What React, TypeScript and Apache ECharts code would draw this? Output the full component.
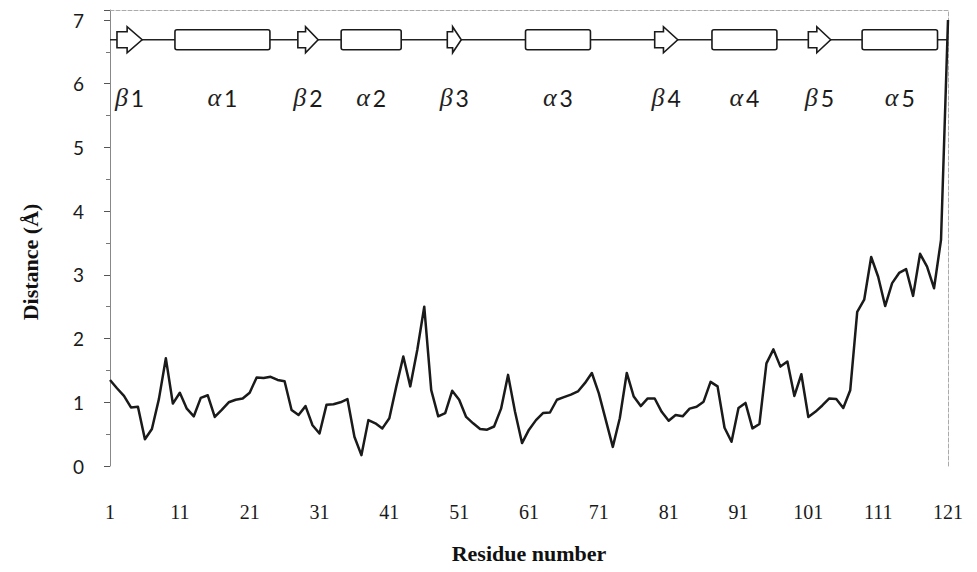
import React, { useEffect, useRef } from "react";
import * as echarts from "echarts";

// Per-residue distance values (Å), residues 1..121
const distance = [
  1.35, 1.22, 1.10, 0.92, 0.93, 0.42, 0.58, 1.05, 1.69, 0.98,
  1.15, 0.90, 0.78, 1.07, 1.11, 0.77, 0.88, 1.00, 1.04, 1.06,
  1.15, 1.39, 1.38, 1.40, 1.35, 1.33, 0.88, 0.80, 0.94, 0.64,
  0.51, 0.96, 0.97, 1.00, 1.05, 0.46, 0.17, 0.72, 0.67, 0.59,
  0.75, 1.25, 1.72, 1.25, 1.82, 2.50, 1.19, 0.78, 0.83, 1.18,
  1.04, 0.77, 0.67, 0.58, 0.57, 0.62, 0.90, 1.43, 0.85, 0.36,
  0.57, 0.72, 0.83, 0.84, 1.04, 1.08, 1.12, 1.17, 1.30, 1.46,
  1.14, 0.72, 0.30, 0.75, 1.46, 1.09, 0.94, 1.06, 1.06, 0.85,
  0.71, 0.80, 0.78, 0.90, 0.93, 1.01, 1.32, 1.25, 0.60, 0.38,
  0.91, 0.99, 0.59, 0.66, 1.61, 1.83, 1.56, 1.64, 1.10, 1.44,
  0.77, 0.85, 0.95, 1.06, 1.05, 0.91, 1.19, 2.42, 2.61, 3.28,
  2.97, 2.51, 2.87, 3.03, 3.09, 2.67, 3.33, 3.13, 2.79, 3.55,
  7.00,
];

const xTickLabels = [1, 11, 21, 31, 41, 51, 61, 71, 81, 91, 101, 111, 121];
const yTickLabels = [0, 1, 2, 3, 4, 5, 6, 7];

// Secondary structure elements (residue ranges)
const ssNames = ["β1", "α1", "β2", "α2", "β3", "α3", "β4", "α4", "β5", "α5"];
const ssKinds = ["strand", "helix", "strand", "helix", "strand", "helix", "strand", "helix", "strand", "helix"];
const ssStart = [2.0, 10.3, 27.9, 34.1, 49.3, 60.5, 79.0, 87.2, 101.0, 108.7];
const ssEnd = [5.6, 23.9, 30.8, 42.7, 51.3, 69.8, 82.3, 96.5, 104.2, 119.5];
const backboneY = 6.69;
const ssLabelY = 5.78;

const xMin = 1;
const xMax = 121;
const yMax = 7.157;

export default function App() {
  const ref = useRef<HTMLDivElement>(null);

  useEffect(() => {
    if (!ref.current) return;
    const chart = echarts.init(ref.current, undefined, { renderer: "svg" });

    const lineData = distance.map((v, i) => [i + 1, v]);
    const ssData = ssNames.map((_, i) => [ssStart[i], ssEnd[i], backboneY, i]);

    const option: any = {
      animation: false,
      backgroundColor: "#ffffff",
      grid: { left: 110, right: 29, top: 10, bottom: 106, containLabel: false },
      xAxis: [
        {
          type: "value",
          min: xMin,
          max: xMax,
          interval: 10,
          position: "bottom",
          axisLine: { show: false, onZero: false },
          axisTick: { show: false },
          splitLine: { show: false },
          axisLabel: {
            margin: 36,
            fontFamily: "Liberation Serif",
            fontSize: 20,
            color: "#1a1a1a",
            formatter: (v: number) => (xTickLabels.includes(v) ? String(v) : ""),
          },
          name: "Residue number",
          nameLocation: "middle",
          nameGap: 76,
          nameTextStyle: {
            fontFamily: "Liberation Serif",
            fontWeight: "bold",
            fontSize: 22,
            color: "#111",
          },
        },
        {
          type: "value",
          min: xMin,
          max: xMax,
          position: "top",
          axisLine: { show: true, onZero: false, lineStyle: { color: "#aaa", type: "dashed", width: 1 } },
          axisTick: { show: false },
          axisLabel: { show: false },
          splitLine: { show: false },
        },
      ],
      yAxis: [
        {
          type: "value",
          min: 0,
          max: yMax,
          interval: 1,
          position: "left",
          axisLine: { show: true, onZero: false, lineStyle: { color: "#888", width: 1 } },
          axisTick: { show: true, length: 6, lineStyle: { color: "#555" } },
          minorTick: { show: true, splitNumber: 2, length: 4, lineStyle: { color: "#777" } },
          splitLine: { show: false },
          axisLabel: {
            margin: 26,
            fontFamily: "Lato",
            fontSize: 19,
            color: "#1a1a1a",
            formatter: (v: number) => (yTickLabels.includes(v) ? String(v) : ""),
          },
        },
        {
          type: "value",
          min: 0,
          max: yMax,
          position: "right",
          axisLine: { show: true, onZero: false, lineStyle: { color: "#aaa", type: "dashed", width: 1 } },
          axisTick: { show: false },
          axisLabel: { show: false },
          splitLine: { show: false },
        },
      ],
      graphic: [
        {
          type: "text",
          x: 30,
          y: 262,
          rotation: Math.PI / 2,
          style: {
            text: "Distance (Å)",
            font: 'bold 22px "Liberation Serif"',
            fill: "#111",
            textAlign: "center",
            textVerticalAlign: "middle",
          },
        },
      ],
      series: [
        {
          name: "backbone",
          type: "line",
          data: [
            [xMin, backboneY],
            [xMax, backboneY],
          ],
          symbol: "none",
          lineStyle: { color: "#222", width: 1.5 },
          z: 1,
          silent: true,
        },
        {
          name: "distance",
          type: "line",
          data: lineData,
          symbol: "none",
          lineStyle: { color: "#1a1a1a", width: 2.5, join: "round" },
          z: 2,
        },
        {
          name: "ss",
          type: "custom",
          data: ssData,
          encode: { x: [0, 1], y: 2 },
          z: 3,
          renderItem: (params: any, api: any) => {
            const i = api.value(3);
            const s = api.coord([api.value(0), api.value(2)]);
            const e = api.coord([api.value(1), api.value(2)]);
            const cy = s[1];
            const x0 = s[0];
            const x1 = e[0];
            const lab = api.coord([(api.value(0) + api.value(1)) / 2, ssLabelY]);
            const name = ssNames[i];
            const stroke = { fill: "#fff", stroke: "#1a1a1a", lineWidth: 1.6 };
            let shapeEl: any;
            if (ssKinds[i] === "helix") {
              shapeEl = {
                type: "rect",
                shape: { x: x0, y: cy - 10, width: x1 - x0, height: 20, r: 2 },
                style: stroke,
              };
            } else {
              const len = x1 - x0;
              const hl = Math.min(15, len * 0.62);
              const xh = x1 - hl;
              const bh = 8;
              const hh = 13;
              shapeEl = {
                type: "polygon",
                shape: {
                  points: [
                    [x0, cy - bh],
                    [xh, cy - bh],
                    [xh, cy - hh],
                    [x1, cy],
                    [xh, cy + hh],
                    [xh, cy + bh],
                    [x0, cy + bh],
                  ],
                },
                style: stroke,
              };
            }
            const text = {
              type: "text",
              x: lab[0],
              y: lab[1],
              style: {
                text: `{g|${name[0]}}{d|${name.slice(1)}}`,
                rich: {
                  g: {
                    fontFamily: "Liberation Serif",
                    fontStyle: "italic",
                    fontSize: 26,
                    fill: "#222",
                    color: "#222",
                  },
                  d: {
                    fontFamily: "Lato",
                    fontSize: 23,
                    fill: "#1a1a1a",
                    color: "#1a1a1a",
                    padding: [0, 0, 0, 3],
                  },
                },
                align: "center",
                verticalAlign: "middle",
                textAlign: "center",
                textVerticalAlign: "middle",
              },
            };
            return { type: "group", children: [shapeEl, text] };
          },
        },
      ],
    };

    chart.setOption(option);
    return () => {
      chart.dispose();
    };
  }, []);

  return <div ref={ref} style={{ width: 977, height: 572, margin: -8 }} />;
}
